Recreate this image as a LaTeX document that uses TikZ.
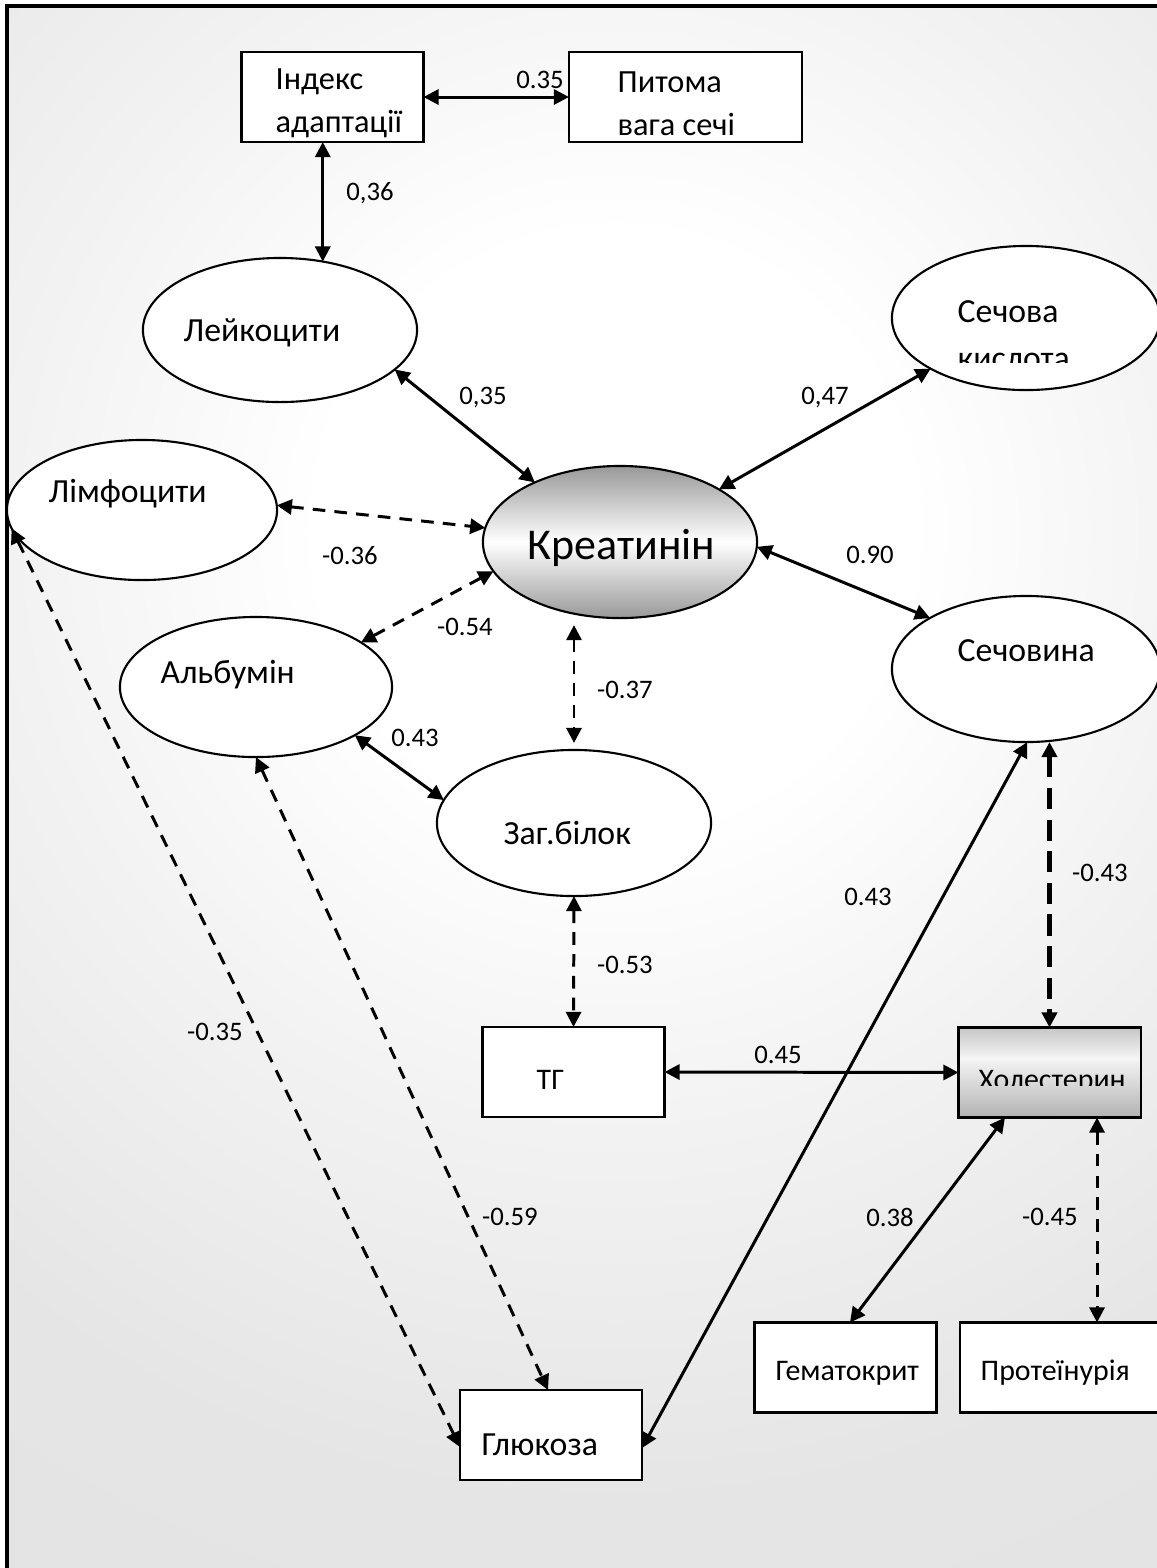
\documentclass[tikz,border=0pt]{standalone}
\usepackage{fontspec}
\setmainfont{Carlito}
\usetikzlibrary{arrows.meta}
\usetikzlibrary{shapes.geometric}

\pgfdeclareradialshading{bgshade}{\pgfpoint{0bp}{0bp}}{color(0bp)=(white); color(3.7bp)=(white); color(7.5bp)=(black!5); color(12bp)=(black!10); color(20bp)=(black!12); color(50bp)=(black!12)}
\pgfdeclareverticalshading{kreatshade}{100bp}{color(0bp)=(black!70); color(22bp)=(black!45); color(50bp)=(white); color(78bp)=(black!45); color(100bp)=(black!70)}
\pgfdeclareverticalshading{cholshade}{100bp}{color(0bp)=(black!50); color(58bp)=(white!96!black); color(100bp)=(black!50)}

\tikzset{
	oval/.style={ellipse, draw, line width=0.6pt, fill=white, minimum width=2.74cm, minimum height=1.44cm, inner sep=0pt, outer sep=0pt},
	box/.style={rectangle, draw, line width=0.6pt, fill=white, minimum width=1.82cm, minimum height=0.9cm, inner sep=0pt, outer sep=0pt},
	link/.style={line width=0.85pt, {Triangle[length=4.3pt,width=4.3pt]}-{Triangle[length=4.3pt,width=4.3pt]}},
	dlink/.style={link, dash pattern=on 3.6pt off 2.6pt},
	wt/.style={font=\fontsize{7.6}{9}\selectfont, inner sep=0pt},
	ovaltxt/.style={font=\fontsize{9.6}{11}\selectfont, anchor=west, inner sep=0pt},
	boxtxt/.style={font=\fontsize{8.5}{10}\selectfont, anchor=west, inner sep=0pt}
}

\begin{document}
\begin{tikzpicture}[x=0.01cm, y=-0.01cm]
\useasboundingbox (0,0) rectangle (1157,1568);

% background and frame
\begin{scope}
	\clip (7,6) rectangle (1157,1568);
	\fill[black!12] (7,6) rectangle (1157,1568);
	\shade[shading=bgshade] (615,530) circle[radius=20cm];
\end{scope}
\draw[line width=0.9pt] (7,1568) -- (7,6) -- (1157,6);

% boxes
\node[box] (ind) at (332.5,97) {};
\node[box, minimum width=2.33cm] (pyt) at (685.5,97) {};
\node[box] (tg) at (573.5,1072) {};
\node[box, fill=none, shading=cholshade] (ch) at (1049.5,1072.5) {};
\node[box] (gm) at (845.5,1367.5) {};
\node[box, minimum width=2.05cm] (pr) at (1062.5,1367.5) {};
\node[box] (gl) at (551,1435) {};

% ovals
\node[oval] (lk) at (280,330) {};
\node[oval, minimum width=2.68cm] (sk) at (1026,318) {};
\node[oval, minimum width=2.70cm, minimum height=1.40cm] (lf) at (142,510) {};
\node[oval, fill=none, shading=kreatshade, minimum width=2.74cm, minimum height=1.52cm] (kr) at (620,542) {};
\node[oval, minimum width=2.72cm, minimum height=1.40cm] (al) at (256,687) {};
\node[oval, minimum width=2.68cm, minimum height=1.46cm] (sv) at (1026,669) {};
\node[oval, minimum height=1.46cm] (zb) at (574,823) {};

% texts
\node[ovaltxt, font=\fontsize{9.2}{11}\selectfont] (ind-t1) at (275,82) {Індекс};
\node[ovaltxt, font=\fontsize{9.2}{11}\selectfont] (ind-t2) at (275,124) {адаптації};
\node[ovaltxt, font=\fontsize{9.2}{11}\selectfont] (pyt-t1) at (617,82) {Питома};
\node[ovaltxt, font=\fontsize{9.2}{11}\selectfont] (pyt-t2) at (617,124) {вага сечі};
\node[ovaltxt] (lk-t) at (183,333) {Лейкоцити};
\node[ovaltxt] (sk-t1) at (957,312) {Сечова};
\begin{scope}
	\clip (890,240) rectangle (1160,362);
	\node[ovaltxt, anchor=base west] (sk-t2) at (957,369) {кислота};
\end{scope}
\node[ovaltxt] (lf-t) at (48,494) {Лімфоцити};
\node[ovaltxt, font=\fontsize{12.5}{14}\selectfont] (kr-t) at (527,548) {Креатинін};
\node[ovaltxt] (al-t) at (160,675) {Альбумін};
\node[ovaltxt] (sv-t) at (957,651) {Сечовина};
\node[ovaltxt] (zb-t) at (503,833) {Заг.білок};
\node[boxtxt] (tg-t) at (536,1080) {ТГ};
\begin{scope}
	\clip (960,1030) rectangle (1140,1085);
	\node[boxtxt, anchor=base west] (ch-t) at (978,1089) {Холестерин};
\end{scope}
\node[boxtxt] (gm-t) at (775,1373) {Гематокрит};
\node[boxtxt] (pr-t) at (980,1373) {Протеїнурія};
\node[ovaltxt] (gl-t) at (481,1445) {Глюкоза};

% connectors
\draw[link] (ind.east) -- (pyt.west);
\draw[link] (lk.58 |- ind.south) -- (lk.58);
\draw[link] (lk.-19) -- (kr.145);
\draw[link] (sk.-152) -- (kr.28);
\draw[dlink] (lf.2) -- (kr.174);
\draw[link] (kr.-2) -- (sv.152);
\draw[dlink] (al.23) -- (kr.-167);
\draw[dlink, shorten <=2pt, shorten >=2pt] (kr.south -| zb.north) -- (zb.north);
\draw[link] (al.-26) -- (zb.170);
\draw[dlink] (zb.south) -- (tg.north);
\draw[link] (tg.east) -- (ch.west);
\draw[dlink, line width=1.4pt, dash pattern=on 6pt off 3pt] (ch.north |- sv.south) -- (ch.north);
\draw[link] (sv.-89) -- ([yshift=-0.13cm]gl.east);
\draw[link] ([xshift=-0.445cm]ch.south) -- ([xshift=0.045cm]gm.north);
\draw[dlink] ([xshift=0.475cm]ch.south) -- ([xshift=0.475cm]ch.south |- pr.north);
\draw[dlink] (lf.-172) -- ([yshift=-0.12cm]gl.west);
\draw[dlink] (al.south) -- ([xshift=-0.03cm]gl.north);

% weights
\node[wt] (w1) at (540,80) {0.35};
\node[wt] (w2) at (370,193) {0,36};
\node[wt] (w3) at (483,398) {0,35};
\node[wt] (w4) at (825,398) {0,47};
\node[wt] (w5) at (350,556) {-0.36};
\node[wt] (w6) at (870,555) {0.90};
\node[wt] (w7) at (465,627) {-0.54};
\node[wt] (w8) at (625,690) {-0.37};
\node[wt] (w9) at (415,738) {0.43};
\node[wt] (w10) at (868,897) {0.43};
\node[wt] (w11) at (1100,873) {-0.43};
\node[wt] (w12) at (625,965) {-0.53};
\node[wt] (w13) at (778,1055) {0.45};
\node[wt] (w14) at (215,1032) {-0.35};
\node[wt] (w15) at (510,1217) {-0.59};
\node[wt] (w16) at (890,1217) {0.38};
\node[wt] (w17) at (1050,1217) {-0.45};

\end{tikzpicture}
\end{document}
